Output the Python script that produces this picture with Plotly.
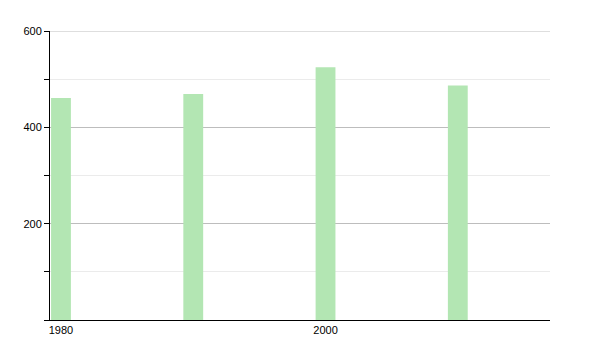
import plotly.graph_objects as go

years = [1980, 1990, 2000, 2010]
values = [461, 469, 525, 487]
x_ticks = [1980, 2000]
y_ticks = [200, 400, 600]
y_max = 600

fig = go.Figure()
fig.add_trace(go.Bar(
    x=years, y=values, width=1.5,
    marker=dict(color="#b3e6b3", line=dict(width=0)),
))

fig.update_layout(
    width=600, height=350,
    margin=dict(l=50, r=50, t=31, b=30),
    plot_bgcolor="white", paper_bgcolor="white",
    showlegend=False,
    font=dict(family="Liberation Sans, Arial, sans-serif", size=11, color="black"),
)
# top gridline at the axis maximum (plotly hides gridlines lying on the plot edge)
fig.add_shape(type="line", xref="paper", x0=0, x1=1, yref="y", y0=y_max, y1=y_max,
              line=dict(color="#bdbdbd", width=1), layer="below")
fig.update_xaxes(
    range=[1979.17, 2016.97],
    tickvals=x_ticks, ticktext=[str(v) for v in x_ticks],
    showline=True, linecolor="black", linewidth=1,
    showgrid=False, zeroline=False, ticks="", ticklen=0,
)
fig.update_yaxes(
    range=[0, y_max],
    tickvals=y_ticks, ticktext=[str(v) for v in y_ticks],
    showline=True, linecolor="black", linewidth=1,
    ticks="outside", ticklen=5, tickcolor="black",
    showgrid=True, gridcolor="#bdbdbd", gridwidth=1,
    zeroline=False,
    minor=dict(dtick=100, tick0=0, ticks="outside", ticklen=5, tickcolor="black",
               showgrid=True, gridcolor="#ebebeb", gridwidth=1),
)

fig.write_html("out.html")
